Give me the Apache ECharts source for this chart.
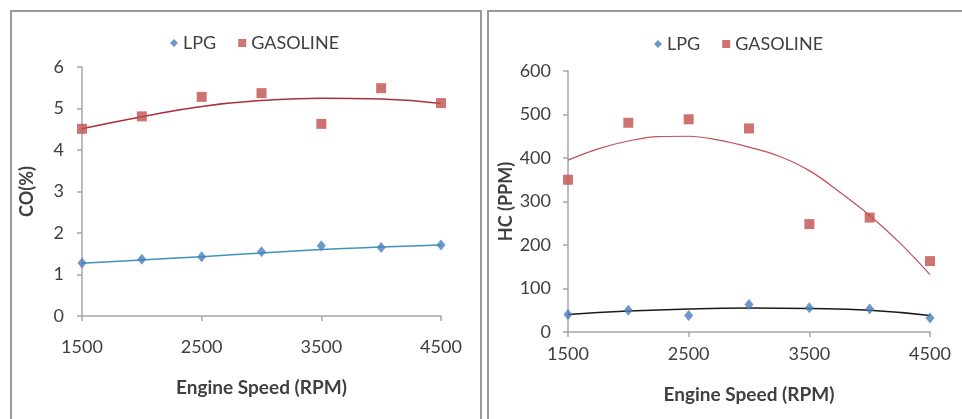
<!DOCTYPE html>
<html>
<head>
<meta charset="utf-8">
<script src="https://cdn.jsdelivr.net/npm/echarts@6/dist/echarts.min.js"></script>
<style>
html,body{margin:0;padding:0;background:#fff;}
#c{width:962px;height:419px;}
</style>
</head>
<body>
<div id="c"></div>
<script>
// Engine speed categories (RPM)
var rpm = ['1500','2000','2500','3000','3500','4000','4500'];
// finer RPM steps for the HC gasoline trend line
var rpmFine = [1500,1750,2000,2250,2500,2750,3000,3250,3500,3750,4000,4250,4500];

// CO (%) measured
var coLPG      = [1.28, 1.37, 1.43, 1.55, 1.69, 1.65, 1.71];
var coGasoline = [4.51, 4.81, 5.28, 5.37, 4.63, 5.49, 5.13];
// CO trend lines
var coLPGTrend      = [1.27, 1.35, 1.43, 1.52, 1.60, 1.66, 1.71];
var coGasolineTrend = [4.51, 4.80, 5.05, 5.19, 5.25, 5.23, 5.12];

// HC (PPM) measured
var hcLPG      = [40, 50, 38, 63, 56, 53, 32];
var hcGasoline = [350, 481, 489, 468, 248, 263, 163];
// HC trend lines
var hcLPGTrend      = [40, 48, 53, 55, 54, 50, 38];
var hcGasolineTrend = [395, 421, 439, 449, 450, 441, 425, 404, 371, 322, 268, 205, 132];

var coTicks = {min: 0, max: 6, interval: 1};
var hcTicks = {min: 0, max: 600, interval: 100};

var FONT = 'Lato, "Open Sans", sans-serif';
var TXT = '#404040';
var AX = '#a6a6a6';
var BLUE = '#4a7ebb';
var RED = '#c0504d';

function xAxis(gi, labelMargin, nameGap) {
  return {
    type: 'category', gridIndex: gi, data: rpm, boundaryGap: false,
    axisLine: {lineStyle: {color: AX, width: 1.5}},
    axisTick: {show: true, interval: 1, length: 5, lineStyle: {color: AX, width: 1.5}},
    axisLabel: {interval: 1, color: TXT, fontFamily: FONT, fontSize: 18, margin: labelMargin},
    splitLine: {show: false},
    name: 'Engine Speed (RPM)', nameLocation: 'middle', nameGap: nameGap,
    nameTextStyle: {color: TXT, fontFamily: FONT, fontSize: 19, fontWeight: 'bold'}
  };
}
function hiddenX(gi) {
  return {type: 'value', gridIndex: gi, min: 1500, max: 4500, show: false,
          splitLine: {show: false}};
}
function yAxis(gi, t, name, nameGap, margin) {
  return {
    type: 'value', gridIndex: gi, min: t.min, max: t.max, interval: t.interval,
    axisLine: {show: true, lineStyle: {color: AX, width: 1.5}},
    axisTick: {show: true, length: 5, lineStyle: {color: AX, width: 1.5}},
    axisLabel: {color: TXT, fontFamily: FONT, fontSize: 18, margin: margin},
    splitLine: {show: false},
    name: name, nameLocation: 'middle', nameGap: nameGap,
    nameTextStyle: {color: TXT, fontFamily: FONT, fontSize: 18, fontWeight: 'bold'}
  };
}
function scatter(name, xi, yi, data, sym, color) {
  return {
    name: name, type: 'scatter', xAxisIndex: xi, yAxisIndex: yi, data: data,
    symbol: sym, symbolSize: sym === 'diamond' ? [9, 11] : 10,
    itemStyle: {color: color}, z: 3
  };
}
function trend(name, xi, yi, data, color, w, sm) {
  return {
    name: name, type: 'line', xAxisIndex: xi, yAxisIndex: yi, data: data,
    smooth: sm, showSymbol: false, symbol: 'none',
    lineStyle: {color: color, width: w}, z: 2, silent: true
  };
}
function pairs(xs, ys) { return xs.map(function (x, i) { return [x, ys[i]]; }); }

var chart = echarts.init(document.getElementById('c'), null, {renderer: 'canvas'});
chart.setOption({
  animation: false,
  backgroundColor: '#ffffff',
  graphic: [
    {type: 'rect', shape: {x: 11, y: 11, width: 470, height: 420}, style: {fill: 'none', stroke: '#9a9a9a', lineWidth: 2}, z: -1},
    {type: 'rect', shape: {x: 488, y: 11, width: 480, height: 420}, style: {fill: 'none', stroke: '#9a9a9a', lineWidth: 2}, z: -1}
  ],
  legend: [
    {left: 165, top: 29, itemWidth: 8, itemHeight: 8, itemGap: 22,
     data: [{name: 'LPG', icon: 'diamond'}, {name: 'GASOLINE', icon: 'rect'}],
     textStyle: {color: TXT, fontFamily: FONT, fontSize: 18}},
    {left: 649, top: 30, itemWidth: 8, itemHeight: 8, itemGap: 22,
     data: [{name: 'LPG', icon: 'diamond'}, {name: 'GASOLINE', icon: 'rect'}],
     textStyle: {color: TXT, fontFamily: FONT, fontSize: 18}}
  ],
  grid: [
    {left: 82, right: 521, top: 67, bottom: 103},
    {left: 568, right: 32, top: 71, bottom: 87}
  ],
  xAxis: [xAxis(0, 22, 62), xAxis(1, 13, 53), hiddenX(1)],
  yAxis: [yAxis(0, coTicks, 'CO(%)', 46, 18), yAxis(1, hcTicks, 'HC (PPM)', 53, 17)],
  series: [
    trend('LPG trend CO', 0, 0, coLPGTrend, '#3f93b8', 1.5, 0.5),
    trend('GASOLINE trend CO', 0, 0, coGasolineTrend, '#a8303c', 1.5, 0.5),
    scatter('LPG', 0, 0, coLPG, 'diamond', BLUE),
    scatter('GASOLINE', 0, 0, coGasoline, 'rect', RED),
    trend('LPG trend HC', 1, 1, hcLPGTrend, '#1a1a1a', 1.5, 0.5),
    trend('GASOLINE trend HC', 2, 1, pairs(rpmFine, hcGasolineTrend), '#c0505a', 1.2, 0.4),
    scatter('LPG', 1, 1, hcLPG, 'diamond', BLUE),
    scatter('GASOLINE', 1, 1, hcGasoline, 'rect', RED)
  ]
});
</script>
</body>
</html>
